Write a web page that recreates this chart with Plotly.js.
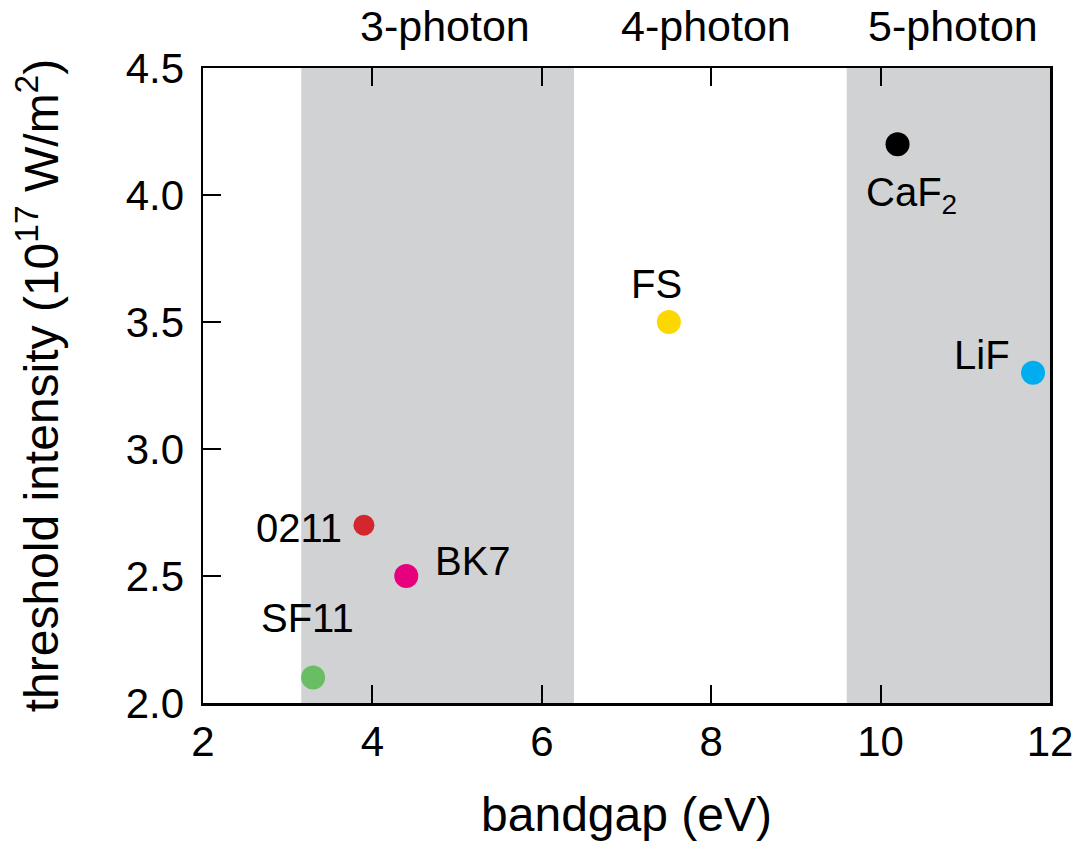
<!DOCTYPE html>
<html>
<head>
<meta charset="utf-8">
<script src="https://cdn.plot.ly/plotly-3.0.1.min.js"></script>
<style>html,body{margin:0;padding:0;background:#fff;}#chart{width:1081px;height:848px;}</style>
</head>
<body>
<div id="chart"></div>
<script>
// Data
const materials = ["SF11", "0211", "BK7", "FS", "CaF<sub>2</sub>", "LiF"];
const bandgap = [3.3, 3.9, 4.4, 7.5, 10.2, 11.8];
const threshold = [2.1, 2.7, 2.5, 3.5, 4.2, 3.3];
const pointColors = ["#69be64", "#d4262d", "#e6007e", "#fcd700", "#000000", "#00aeef"];
const markerSizes = [24, 21, 24, 24, 24, 24];

// label positions (data coords) and anchors
const labelX = [3.23, 3.665, 4.715, 7.36, 10.37, 11.55];
const labelY = [2.334, 2.69, 2.558, 3.65, 4.0, 3.37];
const labelAnchor = ["center", "right", "left", "center", "center", "right"];

// photon-order bands
const bandNames = ["3-photon", "4-photon", "5-photon"];
const bandStart = [3.16, 6.38, 9.6];
const bandEnd = [6.38, 9.6, 12.0];
const bandShaded = [true, false, true];
const bandLabelX = [4.86, 7.94, 10.85];

const font = "'Liberation Sans', Arial, Helvetica, sans-serif";

const trace = {
  type: "scatter",
  mode: "markers",
  x: bandgap,
  y: threshold,
  text: materials,
  hoverinfo: "text",
  marker: {color: pointColors, size: markerSizes, opacity: 1, line: {width: 0}},
  showlegend: false,
  cliponaxis: false
};

const shapes = [];
bandNames.forEach((n, i) => {
  if (bandShaded[i]) {
    shapes.push({type: "rect", xref: "x", yref: "paper", x0: bandStart[i], x1: bandEnd[i], y0: 0, y1: 1,
      fillcolor: "#d1d2d4", line: {width: 0}, layer: "below"});
  }
});

const annotations = [];
materials.forEach((m, i) => {
  annotations.push({x: labelX[i], y: labelY[i], xref: "x", yref: "y", text: m, showarrow: false,
    xanchor: labelAnchor[i], yanchor: "middle", font: {size: 40, color: "#000", family: font}});
});
bandNames.forEach((n, i) => {
  annotations.push({x: bandLabelX[i], y: 1.0, xref: "x", yref: "paper", yshift: 42, text: n, showarrow: false,
    xanchor: "center", yanchor: "middle", font: {size: 43, color: "#000", family: font}});
});

const layout = {
  width: 1081, height: 848,
  margin: {l: 203, r: 31, t: 68, b: 145},
  paper_bgcolor: "#fff", plot_bgcolor: "#fff",
  font: {family: font, size: 42, color: "#000"},
  xaxis: {
    range: [2, 12], dtick: 2, tick0: 2,
    ticks: "inside", ticklen: 18, tickwidth: 2, tickcolor: "#000",
    showline: true, linewidth: 2.5, linecolor: "#000", mirror: "ticks",
    showgrid: false, zeroline: false,
    tickfont: {size: 42, family: font},
    title: {text: "bandgap (eV)", font: {size: 48, family: font}, standoff: 34}
  },
  yaxis: {
    range: [2, 4.5], dtick: 0.5, tick0: 2, tickformat: ".1f",
    ticks: "inside", ticklen: 18, tickwidth: 2, tickcolor: "#000",
    showline: true, linewidth: 2.5, linecolor: "#000", mirror: true,
    showgrid: false, zeroline: false,
    ticklabelstandoff: 8,
    tickfont: {size: 42, family: font},
    title: {text: "threshold intensity (10<sup>17</sup> W/m<sup>2</sup>)", font: {size: 48, family: font}, standoff: 52}
  },
  shapes: shapes,
  annotations: annotations
};

Plotly.newPlot("chart", [trace], layout, {displayModeBar: false, staticPlot: true});
</script>
</body>
</html>
